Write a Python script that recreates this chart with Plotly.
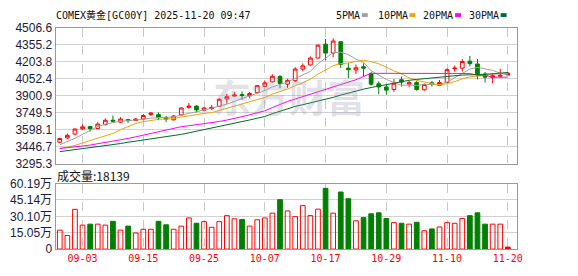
import plotly.graph_objects as go

# ---------------- data ----------------
dates = ["08-29", "09-01", "09-02",
         "09-03", "09-04", "09-05", "09-08", "09-09", "09-10", "09-11", "09-12", "09-15", "09-16",
         "09-17", "09-18", "09-19", "09-22", "09-23", "09-24", "09-25", "09-26", "09-29", "09-30",
         "10-01", "10-02", "10-03", "10-06", "10-07", "10-08", "10-09", "10-10", "10-13", "10-14",
         "10-15", "10-16", "10-17", "10-20", "10-21", "10-22", "10-23", "10-24", "10-27", "10-28",
         "10-29", "10-30", "10-31",
         "11-03", "11-04", "11-05", "11-06", "11-07", "11-10", "11-11", "11-12", "11-13", "11-14",
         "11-17", "11-18", "11-19", "11-20"]

open_ = [3486.3, 3525.0, 3558.7, 3606.6, 3625.9, 3609.1, 3642.8, 3682.3, 3665.5, 3688.2,
         3679.8, 3693.2, 3732.7, 3732.7, 3705.0, 3686.5, 3730.2, 3797.5, 3808.4, 3772.3,
         3785.7, 3806.0, 3873.2, 3898.4, 3911.9, 3901.0, 3928.7, 3985.1, 4024.6, 4071.7,
         4004.4, 4035.5, 4139.0, 4176.0, 4237.4, 4361.0, 4282.0, 4382.9, 4147.4, 4130.6,
         4159.2, 4100.3, 4007.8, 3979.2, 3957.3, 4044.0, 4004.4, 4018.7, 3954.0, 4016.2,
         3993.5, 4021.2, 4142.4, 4147.4, 4209.6, 4184.4, 4094.4, 4063.3, 4075.1, 4086.0]
high_ = [3525.0, 3564.5, 3609.1, 3646.1, 3631.8, 3665.5, 3699.1, 3724.3, 3710.0, 3690.7,
         3701.6, 3738.6, 3755.5, 3752.1, 3721.8, 3728.6, 3797.5, 3836.2, 3816.9, 3800.0,
         3816.9, 3878.3, 3917.8, 3934.6, 3940.5, 3934.6, 3996.0, 4038.1, 4091.9, 4086.0,
         4052.4, 4155.8, 4189.5, 4251.7, 4357.7, 4408.2, 4414.0, 4388.8, 4195.4, 4178.5,
         4189.5, 4111.2, 4029.7, 4001.9, 4049.9, 4073.4, 4038.1, 4033.1, 4010.3, 4033.1,
         4041.4, 4144.9, 4170.1, 4229.0, 4256.8, 4229.0, 4113.8, 4102.8, 4142.4, 4113.8]
low_ = [3480.4, 3514.1, 3547.7, 3595.6, 3581.3, 3604.1, 3637.7, 3673.9, 3659.5, 3659.5,
        3676.4, 3682.3, 3721.8, 3682.3, 3665.5, 3678.1, 3724.3, 3785.7, 3752.1, 3760.5,
        3772.3, 3800.0, 3827.8, 3896.0, 3864.8, 3878.3, 3926.2, 3979.2, 4022.0, 3968.3,
        3970.8, 4024.6, 4119.7, 4170.1, 4231.5, 4214.7, 4245.8, 4147.4, 4058.3, 4094.4,
        4071.7, 3991.0, 3915.3, 3909.4, 3937.1, 3982.6, 3976.7, 3945.5, 3945.5, 3982.6,
        3987.6, 4012.8, 4117.1, 4117.1, 4164.2, 4046.5, 4018.7, 4012.8, 4063.3, 4086.0]
close_ = [3520.0, 3547.7, 3604.1, 3623.4, 3606.6, 3648.6, 3682.3, 3673.9, 3693.2, 3679.8,
          3693.2, 3724.3, 3747.0, 3705.0, 3693.2, 3720.2, 3791.6, 3808.4, 3774.8, 3791.6,
          3797.5, 3869.9, 3892.6, 3906.8, 3903.5, 3920.3, 3991.0, 4016.2, 4075.1, 4010.3,
          4038.1, 4139.0, 4167.6, 4237.4, 4352.6, 4282.0, 4388.8, 4181.1, 4134.0, 4150.8,
          4147.4, 4004.4, 3979.2, 3951.5, 4012.8, 4022.9, 4018.7, 3957.3, 4001.9, 4004.4,
          4018.7, 4134.0, 4147.4, 4206.3, 4187.0, 4097.0, 4066.7, 4080.1, 4083.5, 4102.8]

ma5 = [3463.6, 3488.8, 3520.0, 3556.1, 3592.3, 3625.9, 3648.6, 3662.9, 3673.9, 3678.1,
       3682.3, 3690.7, 3701.6, 3707.5, 3709.2, 3711.7, 3731.1, 3743.7, 3758.0, 3777.3,
       3790.0, 3808.4, 3825.3, 3851.3, 3874.0, 3898.4, 3924.5, 3947.2, 3980.9, 4002.7,
       4024.6, 4055.7, 4086.0, 4118.8, 4187.0, 4235.7, 4285.4, 4288.7, 4267.7, 4227.3,
       4200.4, 4123.9, 4083.5, 4046.5, 4018.7, 3994.3, 3996.9, 3992.6, 4002.7, 4001.1,
       4000.2, 4022.9, 4061.6, 4102.0, 4139.0, 4154.1, 4140.7, 4127.2, 4102.8, 4086.0]
ma10 = [3430.0, 3444.3, 3457.8, 3480.4, 3499.7, 3522.5, 3545.2, 3564.5, 3598.2, 3627.6,
        3653.7, 3669.7, 3682.3, 3690.7, 3693.2, 3696.6, 3710.9, 3722.7, 3732.7, 3742.8,
        3750.4, 3769.7, 3784.1, 3804.3, 3825.3, 3843.8, 3866.5, 3885.8, 3916.1, 3938.0,
        3961.5, 3990.1, 4016.2, 4049.9, 4094.4, 4129.8, 4170.1, 4187.0, 4192.8, 4207.1,
        4218.1, 4204.6, 4186.1, 4156.7, 4123.0, 4097.0, 4060.8, 4038.1, 4024.6, 4009.5,
        3996.9, 4009.5, 4027.1, 4052.4, 4070.0, 4076.8, 4081.8, 4094.4, 4100.0, 4101.0]
ma20 = [3430.0, 3435.9, 3444.3, 3452.7, 3461.1, 3472.0, 3484.6, 3495.6, 3507.3, 3520.0,
        3534.3, 3549.4, 3564.5, 3581.4, 3598.2, 3615.0, 3625.1, 3633.5, 3642.0, 3648.6,
        3659.6, 3671.4, 3684.0, 3696.6, 3714.3, 3731.1, 3747.9, 3766.4, 3795.8, 3823.6,
        3850.5, 3871.5, 3892.6, 3915.3, 3938.8, 3959.8, 3982.6, 4004.4, 4024.6, 4044.0,
        4073.4, 4100.3, 4101.0, 4100.5, 4100.0, 4100.3, 4101.0, 4100.6, 4100.2, 4100.5,
        4100.8, 4100.3, 4100.0, 4100.4, 4099.8, 4083.5, 4083.0, 4066.7, 4066.5, 4066.7]
ma30 = [3402.2, 3410.6, 3419.0, 3427.4, 3435.9, 3444.3, 3452.7, 3463.6, 3474.5, 3486.3,
        3495.6, 3504.8, 3514.1, 3523.3, 3532.6, 3541.8, 3556.1, 3570.4, 3583.9, 3598.2,
        3612.5, 3625.9, 3640.2, 3654.5, 3669.7, 3684.8, 3700.8, 3716.0, 3741.2, 3764.7,
        3789.1, 3805.9, 3821.1, 3836.2, 3852.2, 3867.3, 3886.7, 3906.9, 3926.2, 3945.6,
        3959.8, 3974.2, 3987.6, 4001.9, 4016.2, 4031.3, 4038.9, 4046.5, 4054.0, 4060.8,
        4067.5, 4075.1, 4081.0, 4086.0, 4087.7, 4088.5, 4092.7, 4096.9, 4102.8, 4108.7]

volume_wan = [17.4, 12.4, 36.5, 22.0, 22.9, 22.9, 22.0, 25.5, 17.4, 21.1,
              14.8, 18.2, 18.2, 25.5, 22.3, 18.2, 21.1, 28.6, 23.7, 25.2,
              20.0, 25.2, 30.7, 27.8, 27.2, 21.1, 26.9, 28.6, 33.0, 45.4,
              35.0, 29.8, 39.9, 30.7, 36.7, 55.8, 33.0, 52.4, 46.3, 26.0,
              28.9, 32.4, 33.3, 28.1, 24.3, 23.7, 22.9, 24.6, 16.8, 18.5,
              20.3, 24.3, 23.7, 28.1, 30.7, 33.3, 22.9, 22.9, 22.9, 1.8139]

x_ticks = ["09-03", "09-15", "09-25", "10-07", "10-17", "10-29", "11-10", "11-20"]
price_ticks = [3295.3, 3446.7, 3598.1, 3749.5, 3900.9, 4052.4, 4203.8, 4355.2, 4506.6]
price_tick_text = ["3295.3", "3446.7", "3598.1", "3749.5", "3900.9", "4052.4", "4203.8", "4355.2", "4506.6"]
vol_ticks = [0, 15.05, 30.10, 45.14, 60.19]
vol_tick_text = ["0", "15.05万", "30.10万", "45.14万", "60.19万"]

title_text = "COMEX黄金[GC00Y] 2025-11-20 09:47"
vol_label = "成交量:18139"
ma_names = ["5PMA", "10PMA", "20PMA", "30PMA"]
ma_colors = ["#a0a0a0", "#f0a30a", "#ff00ff", "#006b2b"]

# ---------------- layout geometry (pixels) ----------------
W, H = 578, 276
L, R = 56, 522
P_TOP, P_BOT = 22, 165
V_TOP, V_BOT = 186, 255


def fx(p):
    return p / W


def fy(p):
    return 1 - p / H


RED = "#ff0000"
GREEN = "#008000"
AXIS_LINE = "#9a9a9a"
GRID = "#d2d2d2"
LABEL = "#1a1a3a"

fig = go.Figure()

# candlesticks (last one filled red, as in the reference)
fig.add_trace(go.Candlestick(
    x=dates[:-1], open=open_[:-1], high=high_[:-1], low=low_[:-1], close=close_[:-1],
    increasing=dict(line=dict(color=RED, width=1), fillcolor="rgba(0,0,0,0)"),
    decreasing=dict(line=dict(color=GREEN, width=1), fillcolor=GREEN),
    whiskerwidth=0, xaxis="x", yaxis="y", hoverinfo="skip", showlegend=False))
fig.add_trace(go.Candlestick(
    x=dates[-1:], open=open_[-1:], high=high_[-1:], low=low_[-1:], close=close_[-1:],
    increasing=dict(line=dict(color=RED, width=1), fillcolor=RED),
    decreasing=dict(line=dict(color=GREEN, width=1), fillcolor=GREEN),
    whiskerwidth=0, xaxis="x", yaxis="y", hoverinfo="skip", showlegend=False))

for name, vals, col in zip(ma_names, [ma5, ma10, ma20, ma30], ma_colors):
    fig.add_trace(go.Scatter(x=dates, y=vals, mode="lines", name=name,
                             line=dict(color=col, width=1), xaxis="x", yaxis="y",
                             hoverinfo="skip", showlegend=False))

# volume bars
up = [c >= o for o, c in zip(open_, close_)]
fills = ["rgba(0,0,0,0)" if u else GREEN for u in up]
fills[-1] = RED
edges = [RED if u else GREEN for u in up]
fig.add_trace(go.Bar(x=dates, y=volume_wan, width=0.62,
                     marker=dict(color=fills, line=dict(color=edges, width=1)),
                     xaxis="x2", yaxis="y2", hoverinfo="skip", showlegend=False))

xrange = [-0.56, 60.27]
common_x = dict(type="category", categoryorder="array", categoryarray=dates, range=xrange,
                tickmode="array", tickvals=x_ticks, showgrid=True, gridcolor="#c8c8c8",
                griddash="dash", gridwidth=1, showline=True, mirror=True, linecolor=AXIS_LINE,
                linewidth=1, ticks="", zeroline=False, fixedrange=True,
                domain=[fx(L), fx(R)])

fig.update_layout(
    width=W, height=H, margin=dict(l=0, r=0, t=0, b=0),
    paper_bgcolor="white", plot_bgcolor="white", showlegend=False,
    font=dict(family="Liberation Sans, Arial, sans-serif", size=12, color=LABEL),
    xaxis=dict(common_x, anchor="y", showticklabels=False, rangeslider=dict(visible=False)),
    xaxis2=dict(common_x, anchor="y2", showticklabels=True,
                tickfont=dict(family="DejaVu Sans Mono, monospace", size=10, color=RED)),
    yaxis=dict(domain=[fy(P_BOT), fy(P_TOP)], range=[3295.3, 4506.6], tickmode="array",
               tickvals=price_ticks, ticktext=price_tick_text, showgrid=True, gridcolor=GRID,
               showline=True, mirror=True, linecolor=AXIS_LINE, linewidth=1, ticks="",
               zeroline=False, fixedrange=True, anchor="x",
               tickfont=dict(family="Liberation Sans, Arial, sans-serif", size=12, color=LABEL)),
    yaxis2=dict(domain=[fy(V_BOT), fy(V_TOP)], range=[0, 60.19], tickmode="array",
                tickvals=vol_ticks, ticktext=vol_tick_text, showgrid=True, gridcolor=GRID,
                showline=True, mirror=True, linecolor=AXIS_LINE, linewidth=1, ticks="",
                zeroline=False, fixedrange=True, anchor="x2",
                tickfont=dict(family="Liberation Sans, 'Noto Sans CJK SC', sans-serif", size=12, color=LABEL)),
)

annotations = [
    dict(text=title_text, x=fx(54), y=fy(8.5), xref="paper", yref="paper",
         xanchor="left", yanchor="middle", showarrow=False,
         font=dict(family="DejaVu Sans Mono, 'Noto Sans CJK SC', monospace", size=10, color="#111111")),
    dict(text=vol_label, x=fx(55), y=fy(177.5), xref="paper", yref="paper",
         xanchor="left", yanchor="middle", showarrow=False,
         font=dict(family="'Noto Sans CJK SC', sans-serif", size=12, color="#111111")),
    dict(text="<b>东方财富</b>", x=fx(292), y=fy(93), xref="paper", yref="paper",
         xanchor="center", yanchor="middle", showarrow=False,
         font=dict(family="'Noto Sans CJK SC', sans-serif", size=38, color="rgba(150,150,170,0.28)")),
]
legend_text_x = [337, 379, 425, 471]
legend_box_x = [365, 413, 459, 505]
shapes = []
for name, col, tx, bx in zip(ma_names, ma_colors, legend_text_x, legend_box_x):
    annotations.append(dict(text=name, x=fx(tx), y=fy(8.5), xref="paper", yref="paper",
                            xanchor="left", yanchor="middle", showarrow=False,
                            font=dict(family="DejaVu Sans Mono, monospace", size=10, color="#111111")))
    shapes.append(dict(type="rect", xref="paper", yref="paper",
                       x0=fx(bx), x1=fx(bx + 6), y0=fy(10.5), y1=fy(6.5),
                       fillcolor=col, line=dict(width=0)))

fig.update_layout(annotations=annotations, shapes=shapes)

fig.write_html("out.html")
